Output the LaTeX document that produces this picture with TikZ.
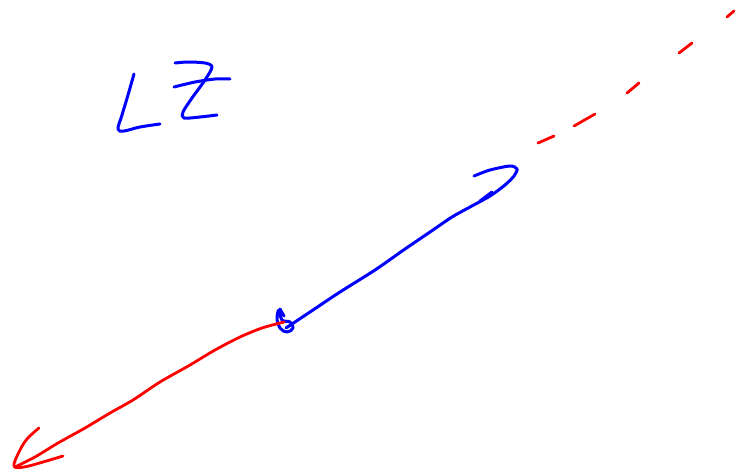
\documentclass[tikz,border=0pt]{standalone}
\begin{document}
\begin{tikzpicture}[x=1pt,y=-1pt,
  pen/.style={line width=3pt,line cap=round,line join=round},
  bluepen/.style={pen,draw={rgb,255:red,0;green,0;blue,255}},
  redpen/.style={pen,draw={rgb,255:red,255;green,0;blue,0},line width=2.8pt}]
\useasboundingbox (0,0) rectangle (739,475);
% L
\draw[bluepen] plot[smooth,tension=0.6] coordinates {(134,74) (128,95) (122,115) (118,129) (124,131) (140,127) (160,124)};
% Z
\draw[bluepen] plot[smooth,tension=0.5] coordinates {(175,63) (188,62) (205,63) (212,67) (205,80) (192,98) (183,112) (184,118) (200,117) (217,115)};
\draw[bluepen] plot[smooth,tension=0.5] coordinates {(174,87) (195,82) (215,79) (230,79)};
% blue arrow
\draw[bluepen] plot[smooth,tension=0.5] coordinates {(286,328) (310,312) (340,292) (375,270) (405,249) (430,232) (452,217) (470,207) (490,196) (505,185) (514,176) (517,169) (510,166) (490,170) (474,176)};
\draw[bluepen] (480,201) -- (492,192);
% loop
\draw[bluepen] plot[smooth cycle,tension=0.7] coordinates {(279,310) (277,319) (280,328) (287,332) (293,328) (290,322) (282,320)};
\draw[bluepen] (280,309) -- (284,316);
% red arrow
\draw[redpen] plot[smooth,tension=0.5] coordinates {(284,322) (262,328) (240,337) (215,350) (190,365) (160,382) (133,400) (110,413) (85,428) (58,443) (35,457) (15,467)};
\draw[redpen] plot[smooth,tension=0.6] coordinates {(39,428) (27,439) (19,452) (14,466) (24,467) (43,462) (63,456)};
% dashed red
\draw[redpen] (538,143) -- (554,136);
\draw[redpen] (574,126) -- (595,114);
\draw[redpen] (627,93) -- (639,83);
\draw[redpen] (679,53) -- (692,43);
\draw[redpen] (727,17) -- (734,11);
\end{tikzpicture}
\end{document}
